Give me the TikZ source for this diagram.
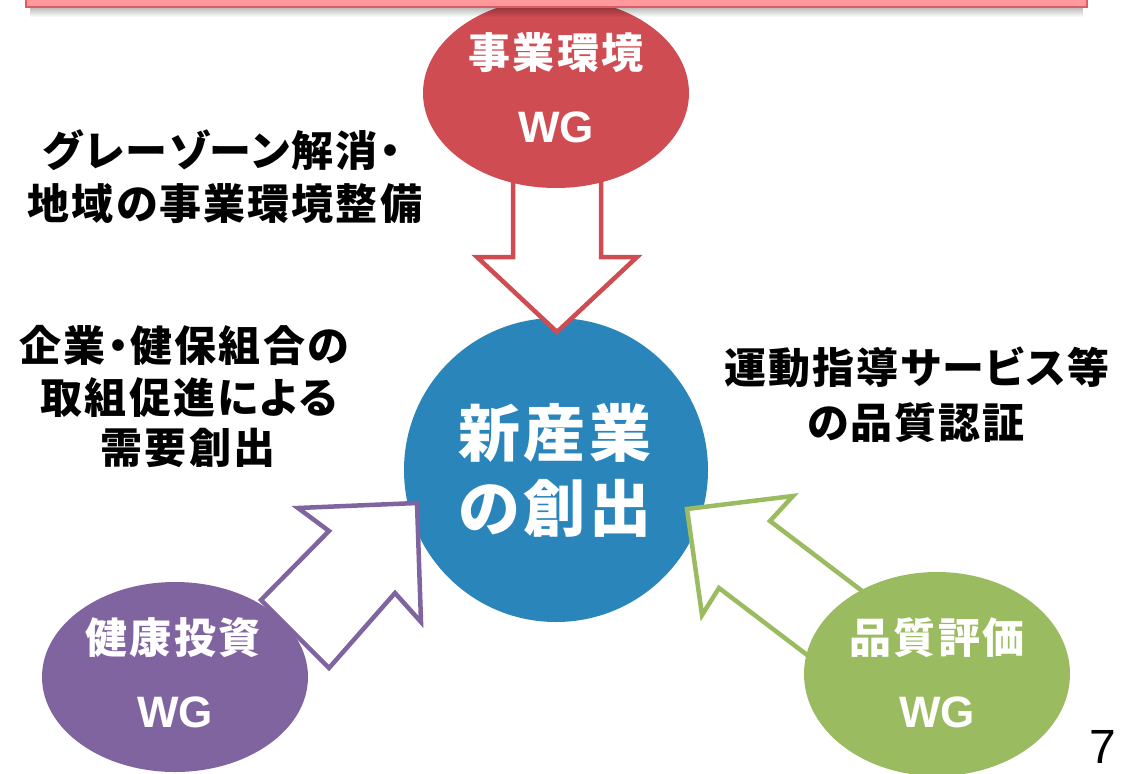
\documentclass[tikz,border=0pt]{standalone}
\usepackage{fontspec}
\usetikzlibrary{shapes.geometric}
\newfontfamily\jp{Noto Sans CJK JP}[RawFeature=+palt, LetterSpace=5]
\newfontfamily\jpc{Noto Sans CJK JP}[RawFeature=+palt, LetterSpace=6]
\newfontfamily\lib{Liberation Sans}
\definecolor{bannerfill}{RGB}{255,153,155}
\definecolor{bannerline}{RGB}{222,92,100}
\definecolor{cred}{RGB}{206,76,82}
\definecolor{cblue}{RGB}{42,133,186}
\definecolor{cpurple}{RGB}{128,100,160}
\definecolor{cgreen}{RGB}{155,187,96}
\tikzset{
  wgell/.style={ellipse, inner sep=0pt, minimum width=266pt},
  blockarrow/.style={line width=4.5pt, fill=white, line join=miter},
  sidetxt/.style={anchor=base, inner sep=0pt, font=\jp\bfseries\fontsize{42pt}{48pt}\selectfont, text=black},
  elltxt/.style={anchor=base, inner sep=0pt, font=\jp\bfseries\fontsize{42pt}{48pt}\selectfont, text=white},
  wgtxt/.style={anchor=base, inner sep=0pt, font=\lib\bfseries\fontsize{44pt}{50pt}\selectfont, text=white},
  coretxt/.style={anchor=base, inner sep=0pt, font=\jpc\bfseries\fontsize{62pt}{70pt}\selectfont, text=white}
}
\begin{document}
\begin{tikzpicture}[x=1pt,y=-1pt]
\useasboundingbox (0,0) rectangle (1128,774);
\fill[white] (0,0) rectangle (1128,774);

% central circle
\node[circle, fill=cblue, minimum size=304pt, inner sep=0pt] (core) at (556,470) {};

% block arrows
\draw[blockarrow, draw=cred] (513,150) -- (513,257) -- (477,257) -- (557,332) -- (637,257) -- (601,257) -- (601,150) -- cycle;
\draw[blockarrow, draw=cpurple] (261,600) -- (329,531) -- (298,508) -- (417,503) -- (421,622) -- (395,593) -- (329,668) -- cycle;
\draw[blockarrow, draw=cgreen] (870,597) -- (770,521) -- (793,496) -- (687,509) -- (702,615) -- (719,588) -- (819,664) -- cycle;

% WG ellipses
\node[wgell, fill=cred, minimum height=190pt] (env) at (556,93) {};
\node[wgell, fill=cpurple, minimum height=190pt] (inv) at (175,677) {};
\node[wgell, fill=cgreen, minimum height=204pt] (qual) at (937,674) {};

% banner shadow and banner
\foreach \i in {0,...,9} {
  \fill[black, opacity={0.28*(1-\i/10)}] (30,7+\i) rectangle (1083,8+\i);
}
\draw[line width=2pt, draw=bannerline, fill=bannerfill] (26,-20) rectangle (1087,7);

% ellipse texts
\node[elltxt] (envA) at (556,68) {事業環境};
\node[wgtxt] (envB) at (556,142) {WG};
\node[elltxt] (invA) at (173,653) {健康投資};
\node[wgtxt] (invB) at (175,727) {WG};
\node[elltxt] (qualA) at (937,653) {品質評価};
\node[wgtxt] (qualB) at (937,727) {WG};

% core text
\node[coretxt] (coreA) at (555,456) {新産業};
\node[coretxt] (coreB) at (555,531) {の創出};

% side texts
\node[sidetxt] (gA) at (222,166) {グレーゾーン解消・};
\node[sidetxt] (gB) at (225,219) {地域の事業環境整備};
\node[sidetxt] (dA) at (184,361) {企業・健保組合の};
\node[sidetxt] (dB) at (189,413) {取組促進による};
\node[sidetxt] (dC) at (188,463) {需要創出};
\node[sidetxt] (qA) at (917,383) {運動指導サービス等};
\node[sidetxt] (qB) at (916,438) {の品質認証};

% page number
\node[anchor=base, inner sep=0pt, text depth=0pt, font=\lib\fontsize{48pt}{56pt}\selectfont] (pg) at (1103,763) {7};
\end{tikzpicture}
\end{document}
